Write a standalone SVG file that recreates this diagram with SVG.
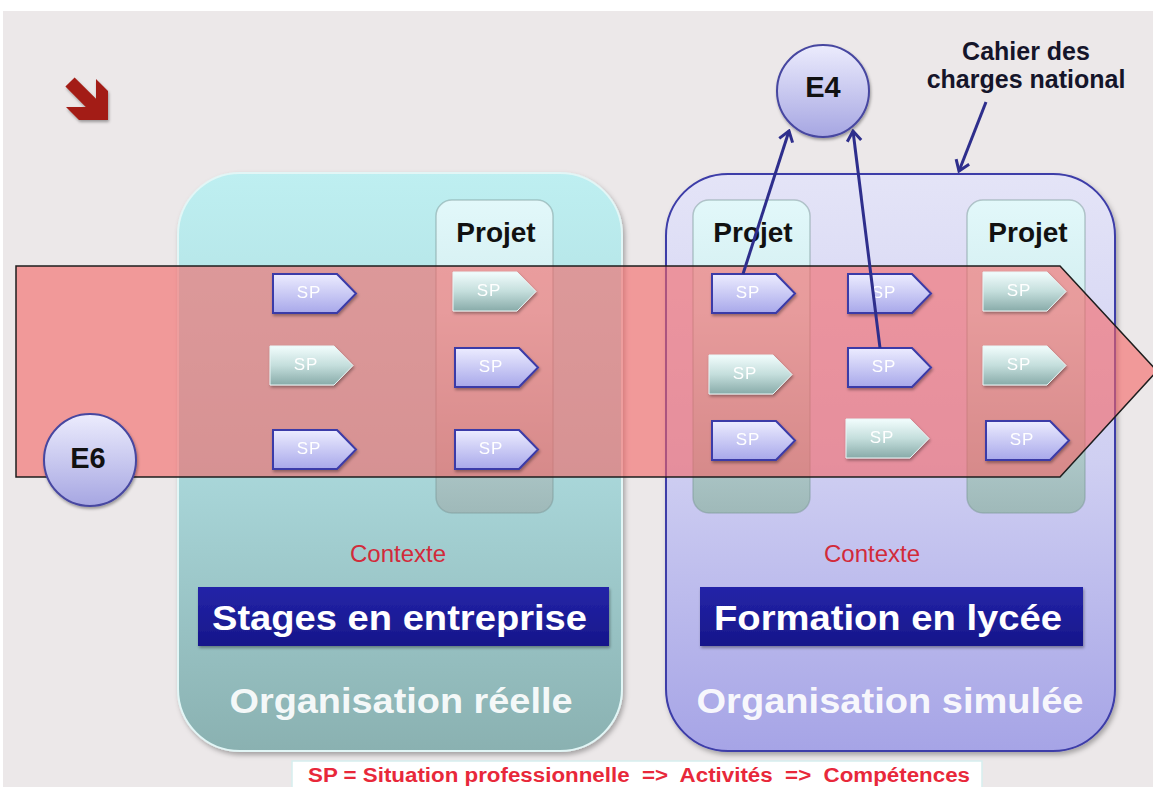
<svg xmlns="http://www.w3.org/2000/svg" width="1153" height="787" viewBox="0 0 1153 787">
<defs>
<linearGradient id="gTeal" x1="0" y1="0" x2="0" y2="1"><stop offset="0" stop-color="#beeff1"/><stop offset="0.5" stop-color="#aad8db"/><stop offset="1" stop-color="#8ab1b1"/></linearGradient>
<linearGradient id="gLav" x1="0" y1="0" x2="0" y2="1"><stop offset="0" stop-color="#e4e4f7"/><stop offset="0.5" stop-color="#cfcff2"/><stop offset="1" stop-color="#a6a4e6"/></linearGradient>
<linearGradient id="gProj" x1="0" y1="0" x2="0" y2="1"><stop offset="0" stop-color="#e2f8fa"/><stop offset="0.35" stop-color="#d2eef0"/><stop offset="1" stop-color="#9fb9b9"/></linearGradient>
<linearGradient id="gSPb" x1="0" y1="0" x2="0" y2="1"><stop offset="0" stop-color="#ececff"/><stop offset="1" stop-color="#a8a8ea"/></linearGradient>
<linearGradient id="gSPt" x1="0" y1="0" x2="0" y2="1"><stop offset="0" stop-color="#f2fdfd"/><stop offset="0.5" stop-color="#c4dedc"/><stop offset="1" stop-color="#88aba9"/></linearGradient>
<linearGradient id="gE" x1="0" y1="0" x2="0" y2="1"><stop offset="0" stop-color="#ececfd"/><stop offset="1" stop-color="#a6a6e2"/></linearGradient>
<linearGradient id="gBar" x1="0" y1="0" x2="0" y2="1"><stop offset="0" stop-color="#2424a8"/><stop offset="1" stop-color="#16168a"/></linearGradient>
<filter id="sh" x="-10%" y="-10%" width="130%" height="130%"><feDropShadow dx="2" dy="3" stdDeviation="2.5" flood-color="#000" flood-opacity="0.3"/></filter>
<filter id="shs" x="-10%" y="-10%" width="130%" height="140%"><feDropShadow dx="1" dy="2" stdDeviation="1.5" flood-color="#000" flood-opacity="0.35"/></filter>
<path id="sp" d="M0,0 H64 L83,19.5 L64,39 H0 Z"/>
<marker id="ah" viewBox="-12 -9 14 18" markerWidth="14" markerHeight="18" refX="0" refY="0" orient="auto" markerUnits="userSpaceOnUse">
<path d="M-10,-7 L0,0 L-10,7" fill="none" stroke="#2e2e8c" stroke-width="3"/>
</marker>
<style>
.bold{font-family:"Liberation Sans",Arial,sans-serif;font-weight:bold}
.reg{font-family:"Liberation Sans",Arial,sans-serif}
.spb{fill:url(#gSPb);stroke:#3a3aa8;stroke-width:2}
.spt{fill:url(#gSPt);stroke:#e8f6f6;stroke-width:1}
.spx{font-family:"Liberation Sans",Arial,sans-serif;font-size:17px;fill:#fff;text-anchor:middle;letter-spacing:1px}
.proj{fill:url(#gProj);stroke:#7e9a9a;stroke-opacity:0.5;stroke-width:1.5}
.ptxt{font-family:"Liberation Sans",Arial,sans-serif;font-weight:bold;font-size:28px;fill:#111;text-anchor:middle}
.circ{fill:url(#gE);stroke:#4646a0;stroke-width:2}
.etxt{font-family:"Liberation Sans",Arial,sans-serif;font-weight:bold;font-size:29px;fill:#111;text-anchor:middle}
.ctx{font-family:"Liberation Sans",Arial,sans-serif;font-size:24px;fill:#d22a3a;text-anchor:middle}
.bar{fill:url(#gBar)}
.bartxt{font-family:"Liberation Sans",Arial,sans-serif;font-weight:bold;font-size:35px;fill:#fff}
.org{font-family:"Liberation Sans",Arial,sans-serif;font-weight:bold;font-size:35px;fill:#fff;fill-opacity:0.93;text-anchor:middle}
.conn{stroke:#2e2e8c;stroke-width:3;fill:none}
</style>
</defs>

<rect x="0" y="0" width="1153" height="787" fill="#ffffff"/>
<rect x="3" y="11" width="1150" height="776" fill="#ece8e9"/>

<!-- red corner arrow -->
<g id="red-arrow" filter="url(#shs)">
<polygon points="108,91 108,120 79,120 66,107 85.8,107 65.4,86.6 74.6,77.4 96,98.8 96,79" fill="#a31d12"/>
</g>

<!-- containers -->
<g id="container-reelle">
<rect x="178" y="173" width="444" height="578" rx="62" fill="url(#gTeal)" stroke="#e2f6f6" stroke-width="2" filter="url(#sh)"/>
<rect x="436" y="200" width="117" height="313" rx="16" class="proj"/>
<text x="496" y="242" class="ptxt">Projet</text>
</g>
<g id="container-simulee">
<rect x="666" y="174" width="449" height="577" rx="62" fill="url(#gLav)" stroke="#3c3ca8" stroke-width="2" filter="url(#sh)"/>
<rect x="693" y="200" width="117" height="313" rx="16" class="proj"/>
<text x="753" y="242" class="ptxt">Projet</text>
<rect x="967" y="200" width="118" height="313" rx="16" class="proj"/>
<text x="1028" y="242" class="ptxt">Projet</text>
</g>

<!-- big pink arrow -->
<g id="big-arrow">
<polygon points="16,266 1060,266 1157,371 1060,477 16,477" fill="#f56464" fill-opacity="0.6" stroke="#1e1e1e" stroke-width="1.5"/>
</g>

<!-- SP nodes -->
<g id="sp1" transform="translate(273,274)" filter="url(#shs)"><use href="#sp" class="spb"/><text x="36" y="24" class="spx">SP</text></g>
<g id="sp2" transform="translate(270,346)" filter="url(#shs)"><use href="#sp" class="spt"/><text x="36" y="24" class="spx">SP</text></g>
<g id="sp3" transform="translate(273,430)" filter="url(#shs)"><use href="#sp" class="spb"/><text x="36" y="24" class="spx">SP</text></g>
<g id="sp4" transform="translate(453,272)" filter="url(#shs)"><use href="#sp" class="spt"/><text x="36" y="24" class="spx">SP</text></g>
<g id="sp5" transform="translate(455,348)" filter="url(#shs)"><use href="#sp" class="spb"/><text x="36" y="24" class="spx">SP</text></g>
<g id="sp6" transform="translate(455,430)" filter="url(#shs)"><use href="#sp" class="spb"/><text x="36" y="24" class="spx">SP</text></g>
<g id="sp7" transform="translate(712,274)" filter="url(#shs)"><use href="#sp" class="spb"/><text x="36" y="24" class="spx">SP</text></g>
<g id="sp8" transform="translate(709,355)" filter="url(#shs)"><use href="#sp" class="spt"/><text x="36" y="24" class="spx">SP</text></g>
<g id="sp9" transform="translate(712,421)" filter="url(#shs)"><use href="#sp" class="spb"/><text x="36" y="24" class="spx">SP</text></g>
<g id="sp10" transform="translate(848,274)" filter="url(#shs)"><use href="#sp" class="spb"/><text x="36" y="24" class="spx">SP</text></g>
<g id="sp11" transform="translate(848,348)" filter="url(#shs)"><use href="#sp" class="spb"/><text x="36" y="24" class="spx">SP</text></g>
<g id="sp12" transform="translate(846,419)" filter="url(#shs)"><use href="#sp" class="spt"/><text x="36" y="24" class="spx">SP</text></g>
<g id="sp13" transform="translate(983,272)" filter="url(#shs)"><use href="#sp" class="spt"/><text x="36" y="24" class="spx">SP</text></g>
<g id="sp14" transform="translate(983,346)" filter="url(#shs)"><use href="#sp" class="spt"/><text x="36" y="24" class="spx">SP</text></g>
<g id="sp15" transform="translate(986,421)" filter="url(#shs)"><use href="#sp" class="spb"/><text x="36" y="24" class="spx">SP</text></g>

<!-- E nodes -->
<g id="e4"><circle cx="823" cy="91" r="46" class="circ" filter="url(#shs)"/><text x="823" y="97" class="etxt">E4</text></g>
<g id="e6"><circle cx="90" cy="460" r="46" class="circ" filter="url(#shs)"/><text x="88" y="468" class="etxt">E6</text></g>

<!-- connectors -->
<g id="connectors">
<line x1="743" y1="274" x2="789" y2="131" class="conn" marker-end="url(#ah)"/>
<line x1="880" y1="348" x2="853" y2="131" class="conn" marker-end="url(#ah)"/>
<line x1="986" y1="102" x2="959" y2="171" class="conn" marker-end="url(#ah)"/>
</g>

<!-- labels -->
<g id="cahier">
<text x="1026" y="60" class="bold" font-size="25" fill="#15152a" text-anchor="middle">Cahier des</text>
<text x="1026" y="88" class="bold" font-size="25" fill="#15152a" text-anchor="middle">charges national</text>
</g>

<g id="label-reelle">
<text x="398" y="562" class="ctx">Contexte</text>
<rect x="198" y="587" width="411" height="59" class="bar" filter="url(#shs)"/>
<text x="212" y="630" class="bartxt" textLength="375" lengthAdjust="spacingAndGlyphs">Stages en entreprise</text>
<text x="401" y="713" class="org" textLength="343" lengthAdjust="spacingAndGlyphs">Organisation réelle</text>
</g>
<g id="label-simulee">
<text x="872" y="562" class="ctx">Contexte</text>
<rect x="700" y="587" width="383" height="59" class="bar" filter="url(#shs)"/>
<text x="714" y="630" class="bartxt" textLength="348" lengthAdjust="spacingAndGlyphs">Formation en lycée</text>
<text x="890" y="713" class="org" textLength="387" lengthAdjust="spacingAndGlyphs">Organisation simulée</text>
</g>

<g id="legend">
<rect x="292" y="761" width="690" height="30" fill="#ffffff" stroke="#d6eeee" stroke-width="1.5"/>
<text x="308" y="782" class="bold" font-size="20" fill="#e8283a" textLength="662" lengthAdjust="spacingAndGlyphs" xml:space="preserve">SP = Situation professionnelle  =&gt;  Activités  =&gt;  Compétences</text>
</g>
</svg>
